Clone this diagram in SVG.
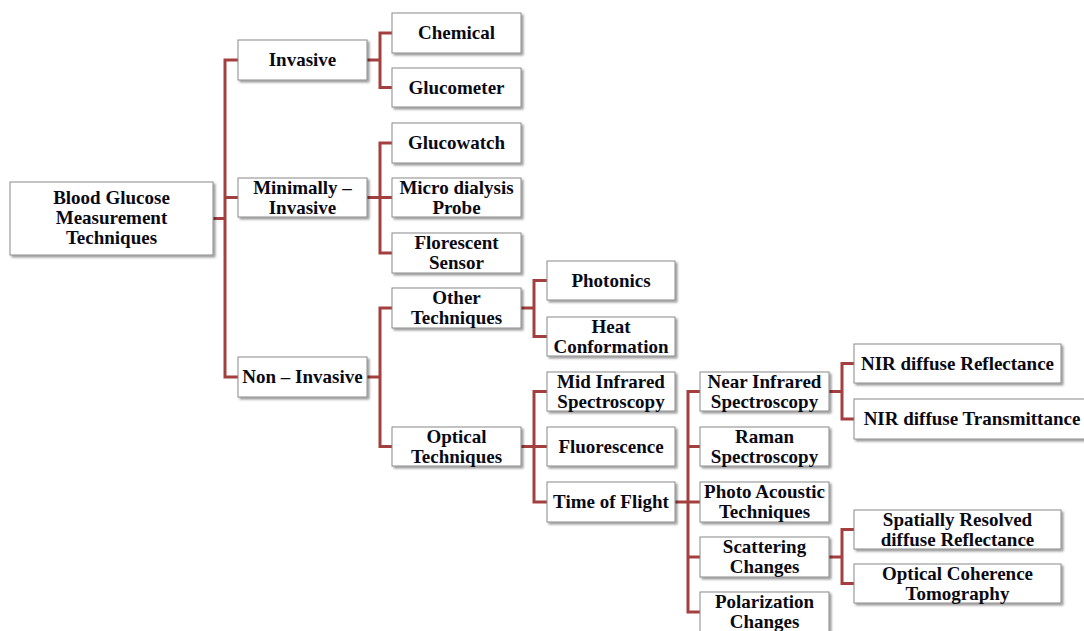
<svg xmlns="http://www.w3.org/2000/svg" width="1084" height="631" viewBox="0 0 1084 631">
<defs>
<filter id="sh" x="-10%" y="-10%" width="130%" height="140%">
<feDropShadow dx="2" dy="2" stdDeviation="1.2" flood-color="#000" flood-opacity="0.4"/>
</filter>
<style>
.b{fill:#fff;stroke:#8a8a8a;stroke-width:1;filter:url(#sh)}
.t{font-family:"Liberation Serif","Times New Roman",serif;font-weight:bold;font-size:19px;fill:#0a0a14;text-anchor:middle}
.c{fill:none;stroke:#a3403f;stroke-width:3;stroke-linejoin:miter}
</style>
</defs>
<rect width="1084" height="631" fill="#fff"/>
<g id="connectors">
<path class="c" d="M213 218.5H225M238 60H225V377H238M225 197.5H238"/>
<path class="c" d="M367 60H380M392 33H380V87.5H392"/>
<path class="c" d="M367 197.5H392M392 143H380V253H392"/>
<path class="c" d="M367 377H380M392 308H380V446.5H392"/>
<path class="c" d="M521 308H534M547 280.5H534V336.5H547"/>
<path class="c" d="M521 446.5H547M547 391.5H534V502H547"/>
<path class="c" d="M675 502H700M700 391.5H688V612H700M688 446.5H700M688 557H700"/>
<path class="c" d="M829 391.5H842M854 363.5H842V419H854"/>
<path class="c" d="M829 557H842M854 529.5H842V583.5H854"/>
</g>
<g id="root"><rect class="b" x="10" y="182" width="203" height="73"/><text class="t" x="111.5" y="204">Blood Glucose</text><text class="t" x="111.5" y="224">Measurement</text><text class="t" x="111.5" y="244">Techniques</text></g>
<g id="invasive"><rect class="b" x="238" y="40" width="129" height="40"/><text class="t" x="302.5" y="66">Invasive</text></g>
<g id="minimally"><rect class="b" x="238" y="178" width="129" height="39"/><text class="t" x="302.5" y="193.5">Minimally –</text><text class="t" x="302.5" y="213.5">Invasive</text></g>
<g id="noninvasive"><rect class="b" x="238" y="357" width="129" height="40"/><text class="t" x="302.5" y="383">Non – Invasive</text></g>
<g id="chemical"><rect class="b" x="392" y="13" width="129" height="40"/><text class="t" x="456.5" y="39">Chemical</text></g>
<g id="glucometer"><rect class="b" x="392" y="68" width="129" height="39"/><text class="t" x="456.5" y="93.5">Glucometer</text></g>
<g id="glucowatch"><rect class="b" x="392" y="123" width="129" height="40"/><text class="t" x="456.5" y="149">Glucowatch</text></g>
<g id="microdialysis"><rect class="b" x="392" y="178" width="129" height="39"/><text class="t" x="456.5" y="193.5">Micro dialysis</text><text class="t" x="456.5" y="213.5">Probe</text></g>
<g id="florescent"><rect class="b" x="392" y="233" width="129" height="40"/><text class="t" x="456.5" y="249">Florescent</text><text class="t" x="456.5" y="269">Sensor</text></g>
<g id="other"><rect class="b" x="392" y="288" width="129" height="40"/><text class="t" x="456.5" y="304">Other</text><text class="t" x="456.5" y="324">Techniques</text></g>
<g id="optical"><rect class="b" x="392" y="427" width="129" height="39"/><text class="t" x="456.5" y="442.5">Optical</text><text class="t" x="456.5" y="462.5">Techniques</text></g>
<g id="photonics"><rect class="b" x="547" y="261" width="128" height="39"/><text class="t" x="611" y="286.5">Photonics</text></g>
<g id="heat"><rect class="b" x="547" y="317" width="128" height="39"/><text class="t" x="611" y="332.5">Heat</text><text class="t" x="611" y="352.5">Conformation</text></g>
<g id="midir"><rect class="b" x="547" y="372" width="128" height="39"/><text class="t" x="611" y="387.5">Mid Infrared</text><text class="t" x="611" y="407.5">Spectroscopy</text></g>
<g id="fluorescence"><rect class="b" x="547" y="427" width="128" height="39"/><text class="t" x="611" y="452.5">Fluorescence</text></g>
<g id="tof"><rect class="b" x="547" y="482" width="128" height="40"/><text class="t" x="611" y="508">Time of Flight</text></g>
<g id="nearir"><rect class="b" x="700" y="372" width="129" height="39"/><text class="t" x="764.5" y="387.5">Near Infrared</text><text class="t" x="764.5" y="407.5">Spectroscopy</text></g>
<g id="raman"><rect class="b" x="700" y="427" width="129" height="39"/><text class="t" x="764.5" y="442.5">Raman</text><text class="t" x="764.5" y="462.5">Spectroscopy</text></g>
<g id="photoacoustic"><rect class="b" x="700" y="482" width="129" height="40"/><text class="t" x="764.5" y="498">Photo Acoustic</text><text class="t" x="764.5" y="518">Techniques</text></g>
<g id="scattering"><rect class="b" x="700" y="537" width="129" height="40"/><text class="t" x="764.5" y="553">Scattering</text><text class="t" x="764.5" y="573">Changes</text></g>
<g id="polarization"><rect class="b" x="700" y="592" width="129" height="40"/><text class="t" x="764.5" y="608">Polarization</text><text class="t" x="764.5" y="628">Changes</text></g>
<g id="nirrefl"><rect class="b" x="854" y="344" width="207" height="39"/><text class="t" x="957.5" y="369.5">NIR diffuse Reflectance</text></g>
<g id="nirtrans"><rect class="b" x="854" y="399" width="236" height="40"/><text class="t" x="972" y="425">NIR diffuse Transmittance</text></g>
<g id="spatially"><rect class="b" x="854" y="510" width="207" height="39"/><text class="t" x="957.5" y="525.5">Spatially Resolved</text><text class="t" x="957.5" y="545.5">diffuse Reflectance</text></g>
<g id="oct"><rect class="b" x="854" y="564" width="207" height="39"/><text class="t" x="957.5" y="579.5">Optical Coherence</text><text class="t" x="957.5" y="599.5">Tomography</text></g>
</svg>
